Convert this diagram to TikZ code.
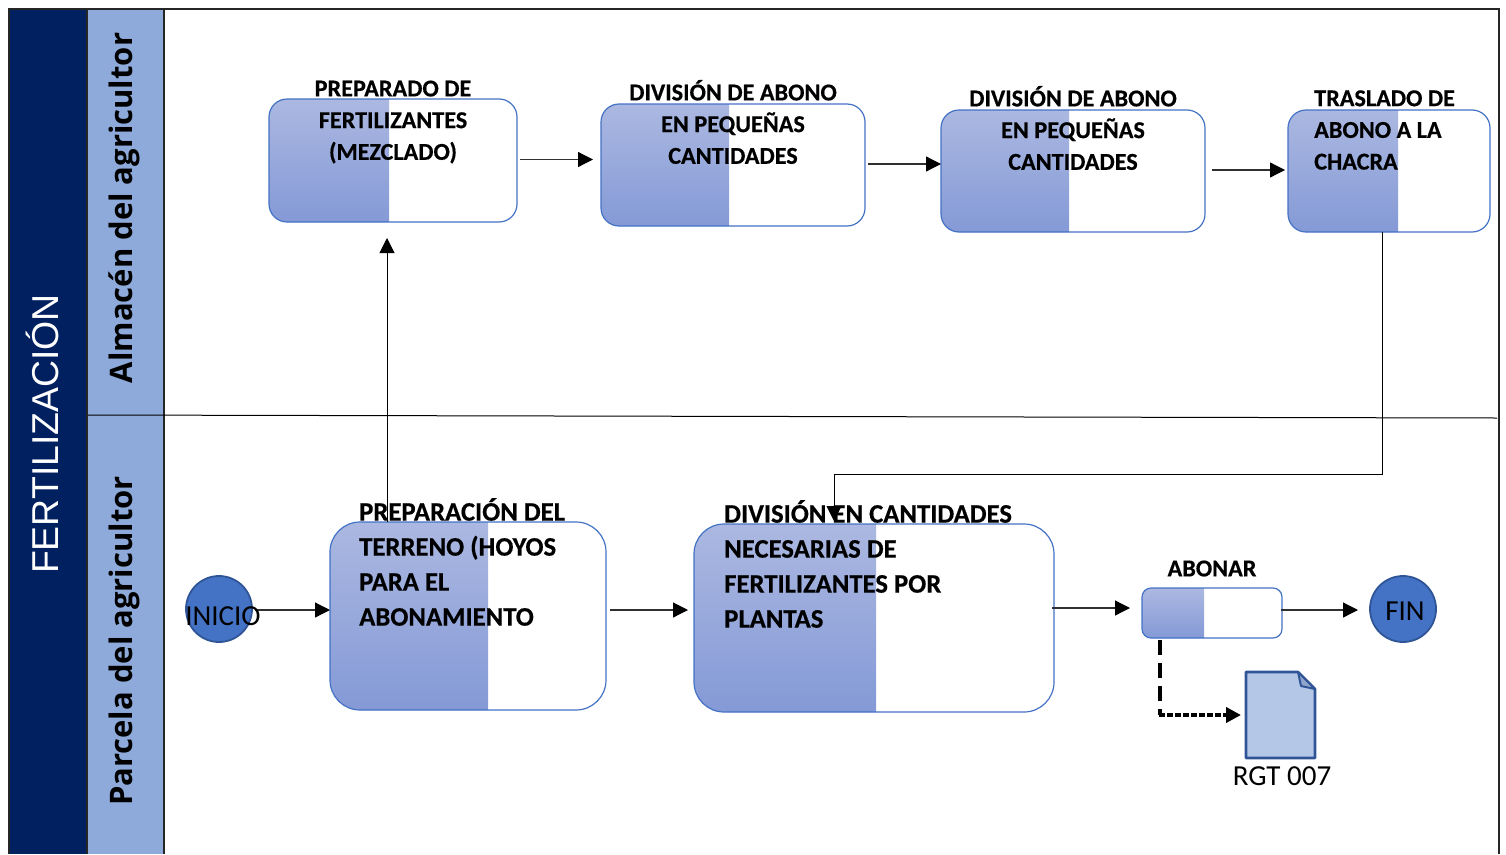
\documentclass[tikz,border=0pt]{standalone}
\usepackage{fontspec}
\setmainfont[BoldFeatures={FakeBold=0.5}]{Carlito}
\newfontfamily\lanefont{Open Sans}
\newfontfamily\titlefont{Liberation Sans}
\usetikzlibrary{arrows.meta}
\definecolor{navyband}{HTML}{002060}
\definecolor{laneblue}{HTML}{8EAADB}
\definecolor{boxedge}{HTML}{4472C4}
\definecolor{gradtop}{HTML}{ABB8E1}
\definecolor{gradbot}{HTML}{8499D6}
\definecolor{circfill}{HTML}{4472C4}
\definecolor{circedge}{HTML}{2F5597}
\definecolor{docfill}{HTML}{B4C7E7}
\definecolor{foldfill}{HTML}{8FA5CC}
\definecolor{arrowgrey}{HTML}{303030}
\tikzset{
  x=1pt,y=-1pt,
  procbox/.style={draw=boxedge,line width=1.2pt,fill=white,inner sep=0pt,outer sep=0pt},
  circ/.style={circle,draw=circedge,line width=1.8pt,fill=circfill,minimum size=66pt,inner sep=0pt,outer sep=0pt},
  arr/.style={draw=arrowgrey,line width=1.2pt,-{Triangle[length=15pt,width=15pt,black]}},
  thinarr/.style={draw=black,line width=1pt,-{Triangle[length=15pt,width=15pt,black]}},
  lbl/.style={inner sep=0pt,font=\fontsize{24.2}{31.7}\selectfont\bfseries,text=black},
  lblc/.style={lbl,align=center},
  lbll/.style={lbl,align=left,anchor=west},
  biglbl/.style={inner sep=0pt,anchor=west,align=left,font=\fontsize{26.7}{35}\selectfont\bfseries,text=black},
  plain/.style={inner sep=0pt,font=\fontsize{29}{32}\selectfont,text=black},
  lanetxt/.style={inner sep=0pt,rotate=90,font=\fontsize{31}{36}\selectfont\lanefont\bfseries,text=black},
}
% name, x0, y0, x1, y1, split x, radius
\newcommand{\procnode}[7]{%
  \node[procbox,rounded corners=#7pt,minimum width=#4pt-#2pt,minimum height=#5pt-#3pt,
    path picture={\shade[sharp corners,top color=gradtop,bottom color=gradbot]
      (path picture bounding box.north west) rectangle
      ([xshift=#6pt-#2pt]path picture bounding box.south west);}]
    (#1) at ({(#2+#4)/2},{(#3+#5)/2}) {};%
}
\begin{document}
\begin{tikzpicture}
\useasboundingbox (0,0) rectangle (1506,854);
% lanes
\fill[navyband] (9,9) rectangle (87,854);
\fill[laneblue] (87,9) rectangle (164,854);
\draw[black!85,line width=1.2pt] (9,854) -- (9,9) -- (1499,9) -- (1499,854);
\draw[black!85,line width=1.2pt] (87,9) -- (87,854);
\draw[black!85,line width=1.2pt] (164,9) -- (164,854);
\draw[black,line width=1pt] (88,415) -- (1497,418);
% boxes
\procnode{pa}{269}{99}{517}{222}{389}{18}
\procnode{pb}{601}{104}{865}{226}{729}{18}
\procnode{pc}{941}{110}{1205}{232}{1069}{18}
\procnode{pd}{1288}{110}{1490}{232}{1398}{18}
\procnode{qa}{330}{522}{606}{710}{488}{30}
\procnode{qb}{694}{524}{1054}{712}{876}{30}
\procnode{qc}{1142}{588}{1282}{638}{1204}{9}
\node[circ] (ini) at (219,609) {};
\node[circ] (fin) at (1403,609) {};
% document
\draw[draw=circedge,fill=docfill,line width=2.6pt,line join=round]
  (1246,672) -- (1298,672) -- (1315,689) -- (1315,758) -- (1246,758) -- cycle;
\draw[draw=circedge,fill=foldfill,line width=2pt,line join=round]
  (1298,672) -- (1301,686) -- (1315,689) -- cycle;
% connectors
\draw[arr] ([xshift=3pt,yshift=1pt]pa.east) -- ([xshift=-8pt,yshift=1pt]pa.east -| pb.west);
\draw[arr] ([xshift=3pt,yshift=1pt]pb.east) -- ([yshift=1pt]pb.east -| pc.west);
\draw[arr] ([xshift=7pt,yshift=1pt]pc.east) -- ([xshift=-3pt,yshift=1pt]pc.east -| pd.west);
\draw[thinarr] (1382,232) -- (1382,474) -- (834,474) -- ([yshift=3pt]qb.north -| 834,0);
\draw[thinarr] (qa.north -| 387,0) -- ([yshift=-16pt]pa.south -| 387,0);
\draw[arr] ([xshift=3pt,yshift=-1pt]ini.east) -- ([yshift=-1pt]ini.east -| qa.west);
\draw[arr] ([xshift=4pt,yshift=6pt]qa.east) -- ([xshift=-6pt,yshift=6pt]qa.east -| qb.west);
\draw[arr] ([xshift=-2pt,yshift=10pt]qb.east) -- ([xshift=-12pt,yshift=10pt]qb.east -| qc.west);
\draw[arr] ([xshift=-1pt,yshift=3pt]qc.east) -- ([xshift=-12pt,yshift=3pt]qc.east -| fin.west);
\draw[black,line width=4pt,dash pattern=on 15pt off 8pt] (1160,640) -- (1160,715);
\draw[black,line width=4.5pt,dash pattern=on 5.5pt off 2.5pt,-{Triangle[length=15pt,width=15pt,black]}] (1159,715) -- (1241,715);
% labels
\node[lblc] (ta) at (393,122) {PREPARADO DE\\FERTILIZANTES\\(MEZCLADO)};
\node[lblc] (tb) at (733,122) {DIVISIÓN DE ABONO\\EN PEQUEÑAS\\CANTIDADES};
\node[lblc] (tc) at (1073,128) {DIVISIÓN DE ABONO\\EN PEQUEÑAS\\CANTIDADES};
\node[lbll] (td) at (1314,130) {TRASLADO DE\\ABONO A LA\\CHACRA};
\node[biglbl] (tqa) at (359,562) {PREPARACIÓN DEL\\TERRENO (HOYOS\\PARA EL\\ABONAMIENTO};
\node[biglbl] (tqb) at (724,564) {DIVISIÓN EN CANTIDADES\\NECESARIAS DE\\FERTILIZANTES POR\\PLANTAS};
\node[lblc] (tqc) at (1212,568.5) {ABONAR};
\node[plain] (tini) at (223,616) {INICIO};
\node[plain] (tfin) at (1405,611) {FIN};
\node[plain] (tdoc) at (1282,776) {RGT 007};
\node[lanetxt] (la) at (124,208) {Almacén del agricultor};
\node[lanetxt] (lb) at (124,641) {Parcela del agricultor};
\node[inner sep=0pt,rotate=90,text=white,font=\fontsize{37.4}{40}\selectfont\titlefont] (tt) at (42,434) {FERTILIZACIÓN};
\end{tikzpicture}
\end{document}
